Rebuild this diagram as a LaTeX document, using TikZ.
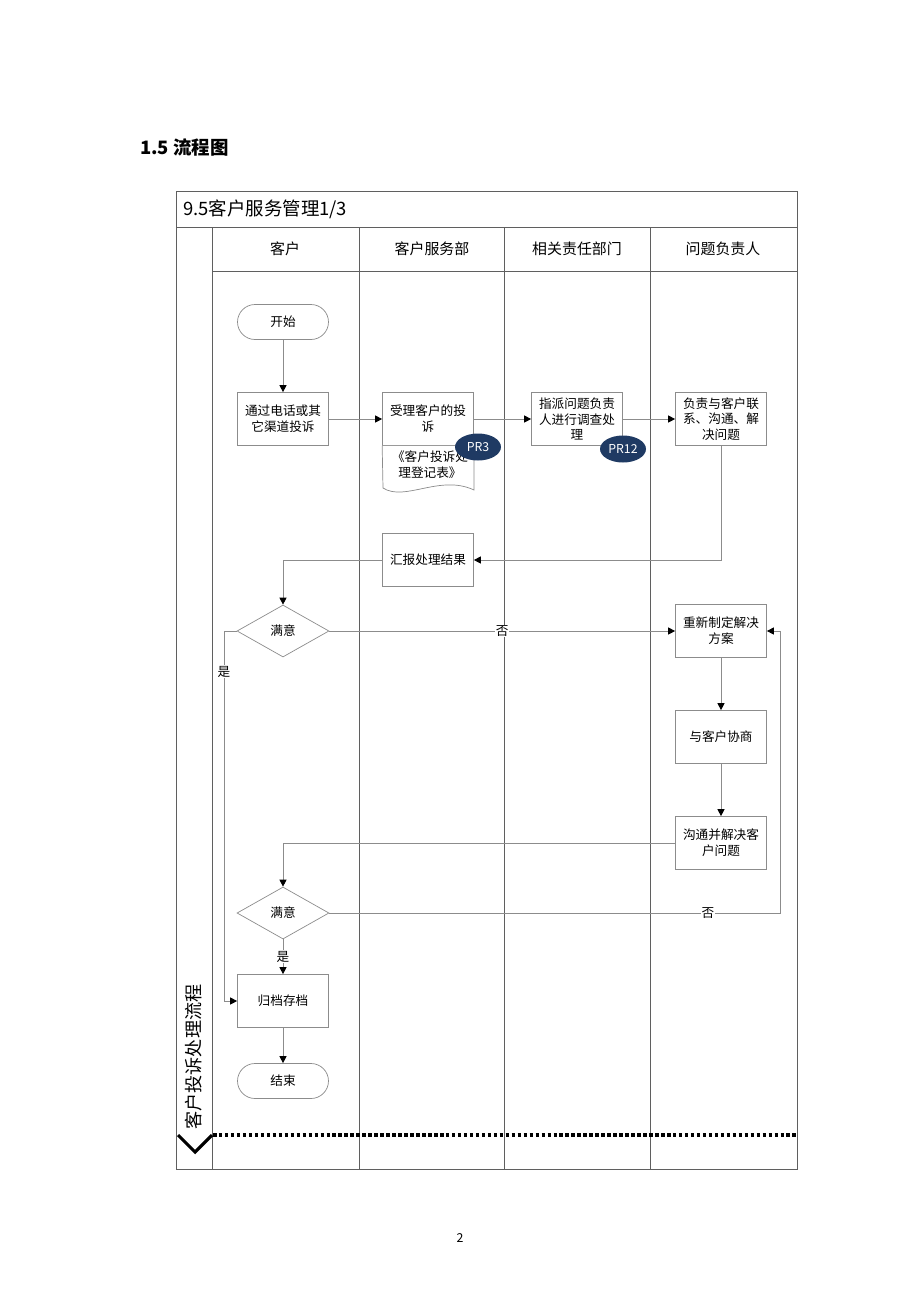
\documentclass[tikz,border=0pt]{standalone}
\usepackage{fontspec}
\setmainfont{Noto Sans CJK SC}
\usetikzlibrary{shapes.geometric}
\usetikzlibrary{arrows.meta}
\definecolor{framegray}{HTML}{5F5F5F}
\definecolor{boxgray}{HTML}{8C8C8C}
\definecolor{prblue}{HTML}{1F3A63}
\tikzset{
  box/.style={draw=boxgray, fill=white, minimum width=1.82cm, minimum height=1.06cm, align=center, inner sep=1pt, font=\fontsize{7.2}{9}\selectfont},
  term/.style={box, rounded corners=0.35cm, minimum height=0.7cm},
  decide/.style={diamond, draw=boxgray, fill=white, minimum width=1.84cm, minimum height=1.04cm, inner sep=0pt, font=\fontsize{7.2}{9}\selectfont},
  prtag/.style={ellipse, fill=prblue, text=white, minimum width=0.92cm, minimum height=0.54cm, inner sep=0pt, font=\fontsize{7}{8}\selectfont},
  flow/.style={draw=boxgray, line width=0.5pt, -{Triangle[length=4pt, width=4pt, color=black]}},
  lane/.style={draw=framegray, line width=0.55pt},
  tag/.style={fill=white, inner sep=0.5pt, font=\fontsize{7.2}{9}\selectfont}
}
\begin{document}
\begin{tikzpicture}[x=0.02cm, y=-0.02cm]
\useasboundingbox (0,0) rectangle (920,1302);
\node[anchor=west, font=\fontsize{10.5}{12}\selectfont\bfseries] (heading) at (134,147) {1.5 流程图};
\draw[lane] (176,191) rectangle (797,1169);
\draw[lane] (176,227) -- (797,227);
\draw[lane] (212,271) -- (797,271);
\draw[lane] (212,227) -- (212,1169);
\draw[lane] (359,227) -- (359,1169);
\draw[lane] (504,227) -- (504,1169);
\draw[lane] (650,227) -- (650,1169);
\node[anchor=west, font=\fontsize{10.5}{12}\selectfont] (chart) at (177,209) {9.5客户服务管理1/3};
\node[font=\fontsize{8.5}{10}\selectfont] (lane_1) at (285,249) {客户};
\node[font=\fontsize{8.5}{10}\selectfont] (lane_2) at (432,249) {客户服务部};
\node[font=\fontsize{8.5}{10}\selectfont] (lane_3) at (577,249) {相关责任部门};
\node[font=\fontsize{8.5}{10}\selectfont] (lane_4) at (723,249) {问题负责人};
\node[rotate=90, font=\fontsize{10.3}{12}\selectfont] (process) at (194,1057) {客户投诉处理流程};
\draw[line width=1.8pt] (178,1135) -- (195,1152) -- (212,1135);
\draw[line width=1.8pt, dash pattern=on 2pt off 1.4pt] (213,1135) -- (797,1135);
\node[term] (start) at (283,322) {开始};
\node[box] (complain) at (283,419) {通过电话或其\\它渠道投诉};
\node[box] (accept) at (428,419) {受理客户的投\\诉};
\draw[draw=boxgray, fill=white] (accept.south west) -- (383,488) .. controls (405,502) and (440,474) .. (474,490) -- (accept.south east);
\node[font=\fontsize{7.2}{9}\selectfont, align=center] (record) at (430,465) {《客户投诉处\\理登记表》};
\node[box] (assign) at (577,419) {指派问题负责\\人进行调查处\\理};
\node[box] (contact) at (721,419) {负责与客户联\\系、沟通、解\\决问题};
\node[prtag] (PR_3) at (478,447) {PR3};
\node[prtag] (PR_12) at (623,449) {PR12};
\node[box] (report) at (428,560) {汇报处理结果};
\node[decide] (check_1) at (283,631) {满意};
\node[box] (redo) at (721,631) {重新制定解决\\方案};
\node[box] (negotiate) at (721,737) {与客户协商};
\node[box] (solve) at (721,843) {沟通并解决客\\户问题};
\node[decide] (check_2) at (283,913) {满意};
\node[box] (archive) at (283,1001) {归档存档};
\node[term] (finish) at (283,1081) {结束};
\coordinate (yes_turn) at (224,631);
\coordinate (no_turn) at (780,913);
\draw[flow] (start) -- (complain);
\draw[flow] (complain) -- (accept);
\draw[flow] (accept) -- (assign);
\draw[flow] (assign) -- (contact);
\draw[flow] (contact.south) |- (report.east);
\draw[flow] (report.west) -| (check_1.north);
\draw[flow] (check_1.east) -- node[tag, pos=0.5] {否} (redo.west);
\draw[flow] (check_1.west) -- (yes_turn) |- node[tag, pos=0.055] {是} (archive.west);
\draw[flow] (redo) -- (negotiate);
\draw[flow] (negotiate) -- (solve);
\draw[flow] (solve.west) -| (check_2.north);
\draw[flow] (check_2.east) -- node[tag, pos=0.84] {否} (no_turn) |- (redo.east);
\draw[flow] (check_2.south) -- node[tag] {是} (archive.north);
\draw[flow] (archive) -- (finish);
\node[font=\fontsize{7}{8}\selectfont] (page) at (460,1238) {2};
\end{tikzpicture}
\end{document}
